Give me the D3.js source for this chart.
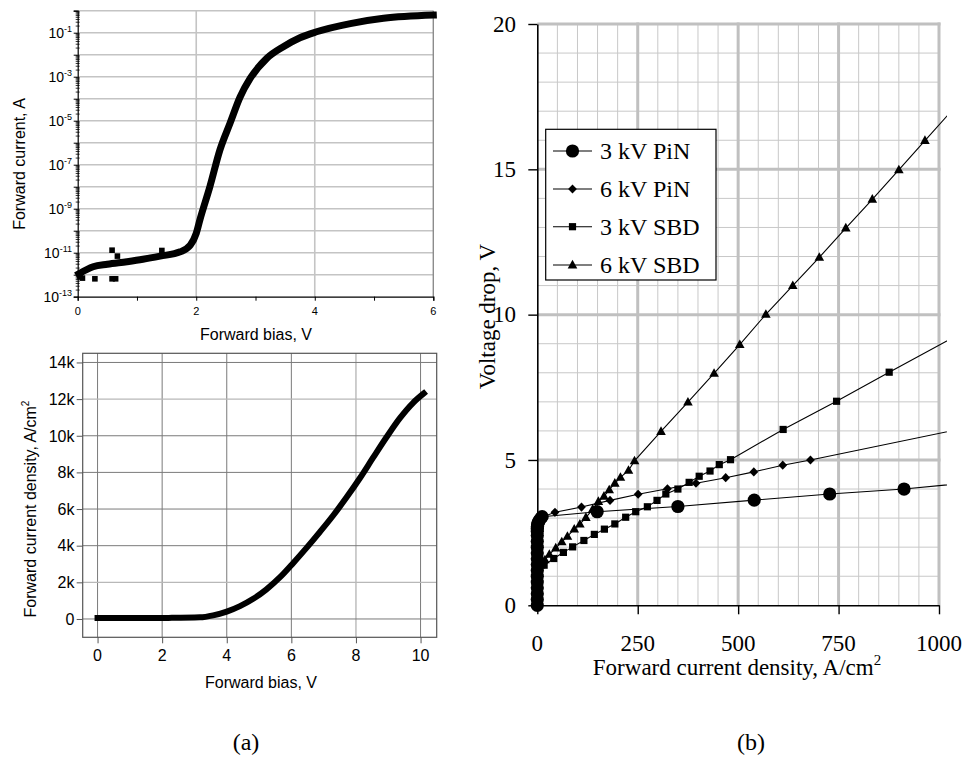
<!DOCTYPE html>
<html><head><meta charset="utf-8">
<script src="https://cdn.jsdelivr.net/npm/d3@7"></script>
<style>body{margin:0;background:#fff}svg{display:block}</style>
</head><body>
<svg id="c" width="965" height="758"></svg>
<script>
// ---------------- DATA ----------------
// (a) top: log I-V
const ivBias = [0.02,0.26,0.5,0.83,1.1,1.39,1.73,1.9,2.0,2.06,2.23,2.40,2.57,2.74,2.91,3.19,3.47,3.75,4.03,4.6,5.16,6.0];
const ivCurrent = [1.1e-12,2.3e-12,3e-12,3.9e-12,5e-12,7e-12,1.1e-11,2.2e-11,7.6e-11,3e-10,1e-8,4.7e-7,7.6e-6,1.2e-4,8.3e-4,6.8e-3,2.3e-2,5.9e-2,0.11,0.26,0.45,0.63];
const ivOutBias = [0.04,0.08,0.29,0.58,0.58,0.64,0.67,1.42];
const ivOutCurrent = [8e-13,7e-13,6.5e-13,1.3e-11,6.5e-13,6.5e-13,7e-12,1.26e-11];
const ivXTicks = [0,1,2,3,4,5,6];
const ivXLabels = [0,2,4,6];
const ivYLabelExp = [-1,-3,-5,-7,-9,-11,-13];

// (a) bottom: linear J-V
const jvBias = [0,1.1,2.2,3.17,3.58,4.0,4.41,4.82,5.23,5.65,6.06,6.47,6.88,7.3,7.71,8.12,8.53,8.95,9.36,9.77,10.1];
const jvDensity = [50,50,60,90,200,400,700,1100,1620,2280,3060,3880,4740,5660,6640,7680,8800,9930,10960,11800,12310];
const jvXTicks = [0,2,4,6,8,10];
const jvYTicks = [0,2000,4000,6000,8000,10000,12000,14000];
const jvYTickLabels = ["0","2k","4k","6k","8k","10k","12k","14k"];

// (b) voltage drop vs current density
const seriesNames = ["3 kV PiN","6 kV PiN","3 kV SBD","6 kV SBD"];
const pin3X = [0,0,0,0,0,0,0,0,0,0,0,0,0,0,0,0.5,1,2,4,8,12,149,350,540,728,913,1100];
const pin3Y = [0,0.2,0.4,0.6,0.8,1.0,1.2,1.4,1.6,1.8,2.0,2.2,2.4,2.55,2.65,2.72,2.78,2.84,2.9,2.98,3.05,3.22,3.40,3.62,3.83,4.0,4.25];
const pin6X = [0,0,0,0,2,6,44,110,181,251,324,395,469,539,611,680,1100];
const pin6Y = [0,1.0,2.0,2.6,2.85,3.0,3.20,3.38,3.61,3.82,4.01,4.20,4.39,4.59,4.82,5.0,6.2];
const sbd3X = [0,0,0,2,6,17,41,65,88,116,142,167,193,220,245,274,298,320,350,378,403,430,453,481,612,745,876,1050];
const sbd3Y = [0,0.5,1.0,1.2,1.3,1.38,1.61,1.82,2.01,2.23,2.44,2.62,2.80,3.03,3.22,3.39,3.61,3.83,4.0,4.23,4.44,4.62,4.84,5.01,6.05,7.02,8.02,9.32];
const sbd6X = [0,0,0,0,1,3,8,19,30,46,61,75,92,106,121,138,152,166,179,193,207,227,242,308,375,440,504,569,636,702,768,834,900,965,1050];
const sbd6Y = [0,0.4,0.8,1.1,1.2,1.28,1.38,1.56,1.75,1.97,2.18,2.37,2.62,2.79,3.02,3.31,3.57,3.75,3.97,4.20,4.40,4.64,4.97,5.98,6.99,7.98,8.97,10.01,11.0,11.97,12.98,13.97,14.98,15.99,17.3];
const bXTicks = [0,250,500,750,1000];
const bYTicks = [0,5,10,15,20];

// ---------------- DRAW ----------------
const svg = d3.select("#c");
const SANS = "'Liberation Sans', Arial, sans-serif";
const SERIF = "'Liberation Serif', 'Times New Roman', serif";

// ===== (a) top =====
{
  const g = svg.append("g");
  const x = d3.scaleLinear().domain([0,6]).range([77.7,433.3]);
  const y = d3.scaleLog().domain([1e-13,1]).range([296.7,10.7]);
  const decades = d3.range(-12,1).map(e => Math.pow(10,e));
  g.selectAll(".hg").data(decades).join("line")
    .attr("x1",x(0)).attr("x2",x(6)).attr("y1",d=>y(d)).attr("y2",d=>y(d))
    .attr("stroke","#c4c4c4").attr("stroke-width",1.6);
  g.selectAll(".vg").data([2,4]).join("line")
    .attr("x1",d=>x(d)).attr("x2",d=>x(d)).attr("y1",y(1e-13)).attr("y2",y(1))
    .attr("stroke","#c4c4c4").attr("stroke-width",1.6);
  g.append("line").attr("x1",x(6)).attr("x2",x(6)).attr("y1",y(1e-13)).attr("y2",y(1))
    .attr("stroke","#8c8c8c").attr("stroke-width",1.4);
  const minors = [];
  d3.range(-13,0).forEach(e => { for (let m=2;m<=9;m++) minors.push(m*Math.pow(10,e)); });
  g.selectAll(".mt").data(minors).join("line")
    .attr("x1",x(0)-2).attr("x2",x(0)+2).attr("y1",d=>y(d)).attr("y2",d=>y(d))
    .attr("stroke","#000").attr("stroke-width",0.8);
  const ya = g.append("g").attr("transform",`translate(${x(0)},0)`)
    .call(d3.axisLeft(y).tickValues(d3.range(-13,1).map(e=>Math.pow(10,e))).tickSize(4).tickFormat(""));
  ya.select(".domain").attr("stroke","#000").attr("stroke-width",1.2);
  const xa = g.append("g").attr("transform",`translate(0,${y(1e-13)})`)
    .call(d3.axisBottom(x).tickValues(ivXTicks).tickSize(4).tickFormat(""));
  xa.select(".domain").attr("stroke","#000").attr("stroke-width",1.2);
  g.selectAll(".xl").data(ivXLabels).join("text")
    .attr("x",d=>x(d)).attr("y",315).attr("text-anchor","middle")
    .attr("font-family",SANS).attr("font-size",11).text(d=>d);
  const yl = g.selectAll(".yl").data(ivYLabelExp).join("text")
    .attr("x",72).attr("y",d=>y(Math.pow(10,d))+5.4).attr("text-anchor","end")
    .attr("font-family",SANS).attr("font-size",14);
  yl.append("tspan").text("10");
  yl.append("tspan").attr("dy",-6).attr("font-size",9).text(d=>d);
  const line = d3.line().x((d,i)=>x(ivBias[i])).y(d=>y(d)).curve(d3.curveMonotoneX);
  g.append("path").attr("d",line(ivCurrent)).attr("fill","none").attr("stroke","#000")
    .attr("stroke-width",7).attr("stroke-linejoin","round").attr("stroke-linecap","square");
  g.selectAll(".out").data(ivOutCurrent).join("rect")
    .attr("x",(d,i)=>x(ivOutBias[i])-2.8).attr("y",d=>y(d)-2.8).attr("width",5.6).attr("height",5.6).attr("fill","#000");
  g.append("text").attr("x",256).attr("y",340).attr("text-anchor","middle")
    .attr("font-family",SANS).attr("font-size",16).text("Forward bias, V");
  g.append("text").attr("transform","translate(25,164) rotate(-90)").attr("text-anchor","middle")
    .attr("font-family",SANS).attr("font-size",16).text("Forward current, A");
}

// ===== (a) bottom =====
{
  const g = svg.append("g");
  const x = d3.scaleLinear().domain([-0.46,10.5]).range([82.7,436.7]);
  const y = d3.scaleLinear().domain([-1000,14500]).range([637.3,353.3]);
  const light = v => (v===8 || v===2000 || v===12000);
  g.selectAll(".vg").data(jvXTicks).join("line")
    .attr("x1",d=>x(d)).attr("x2",d=>x(d)).attr("y1",353.3).attr("y2",637.3)
    .attr("stroke",d=>light(d)?"#b8b8b8":"#7a7a7a").attr("stroke-width",d=>light(d)?1.4:1);
  g.selectAll(".hg").data(jvYTicks).join("line")
    .attr("x1",82.7).attr("x2",436.7).attr("y1",d=>y(d)).attr("y2",d=>y(d))
    .attr("stroke",d=>light(d)?"#b8b8b8":"#7a7a7a").attr("stroke-width",d=>light(d)?1.4:1);
  g.append("rect").attr("x",82.7).attr("y",353.3).attr("width",354).attr("height",284)
    .attr("fill","none").attr("stroke","#555").attr("stroke-width",1.2);
  const xa = g.append("g").attr("transform","translate(0,637.3)")
    .call(d3.axisBottom(x).tickValues(jvXTicks).tickSize(6).tickSizeOuter(0).tickFormat(""));
  xa.select(".domain").remove();
  xa.selectAll("line").attr("stroke","#555");
  const ya = g.append("g").attr("transform","translate(82.7,0)")
    .call(d3.axisLeft(y).tickValues(jvYTicks).tickSize(6).tickSizeOuter(0).tickFormat(""));
  ya.select(".domain").remove();
  ya.selectAll("line").attr("stroke","#555");
  g.selectAll(".xl").data(jvXTicks).join("text")
    .attr("x",d=>x(d)).attr("y",660.7).attr("text-anchor","middle")
    .attr("font-family",SANS).attr("font-size",16).text(d=>d);
  g.selectAll(".yl").data(jvYTicks).join("text")
    .attr("x",74.5).attr("y",d=>y(d)+5.8).attr("text-anchor","end")
    .attr("font-family",SANS).attr("font-size",16).text((d,i)=>jvYTickLabels[i]);
  const line = d3.line().x((d,i)=>x(jvBias[i])).y(d=>y(d)).curve(d3.curveMonotoneX);
  g.append("path").attr("d",line(jvDensity)).attr("fill","none").attr("stroke","#000")
    .attr("stroke-width",6).attr("stroke-linejoin","round").attr("stroke-linecap","square");
  g.append("text").attr("x",261).attr("y",688).attr("text-anchor","middle")
    .attr("font-family",SANS).attr("font-size",16).text("Forward bias, V");
  const t = g.append("text").attr("transform","translate(36,509) rotate(-90)").attr("text-anchor","middle")
    .attr("font-family",SANS).attr("font-size",16);
  t.append("tspan").text("Forward current density, A/cm");
  t.append("tspan").attr("dy",-7).attr("font-size",10).text("2");
  svg.append("text").attr("x",246).attr("y",750).attr("text-anchor","middle")
    .attr("font-family",SERIF).attr("font-size",24).text("(a)");
}

// ===== (b) =====
{
  const g = svg.append("g");
  const x = d3.scaleLinear().domain([0,1000]).range([537.3,939]);
  const y = d3.scaleLinear().domain([0,20]).range([605.3,24]);
  const minorX = d3.range(50,1000,50).filter(v=>v%250!==0);
  const minorY = d3.range(1,20,1).filter(v=>v%5!==0);
  g.selectAll(".mvx").data(minorX).join("line")
    .attr("x1",d=>x(d)).attr("x2",d=>x(d)).attr("y1",y(0)).attr("y2",y(20))
    .attr("stroke","#c8c8c8").attr("stroke-width",1);
  g.selectAll(".mhy").data(minorY).join("line")
    .attr("x1",x(0)).attr("x2",x(1000)).attr("y1",d=>y(d)).attr("y2",d=>y(d))
    .attr("stroke","#c8c8c8").attr("stroke-width",1);
  g.selectAll(".Mvx").data(bXTicks.slice(1)).join("line")
    .attr("x1",d=>x(d)).attr("x2",d=>x(d)).attr("y1",y(0)).attr("y2",y(20)-1.5)
    .attr("stroke","#c0c0c0").attr("stroke-width",3);
  g.selectAll(".Mhy").data(bYTicks.slice(1)).join("line")
    .attr("x1",x(0)).attr("x2",x(1000)+1.5).attr("y1",d=>y(d)).attr("y2",d=>y(d))
    .attr("stroke","#c0c0c0").attr("stroke-width",3);
  const xa = g.append("g").attr("transform",`translate(0,${y(0)})`)
    .call(d3.axisBottom(x).tickValues(bXTicks).tickSize(9).tickSizeOuter(0).tickFormat(""));
  xa.select(".domain").attr("stroke","#000").attr("stroke-width",1.6);
  xa.selectAll("line").attr("stroke","#000").attr("stroke-width",1.4);
  const ya = g.append("g").attr("transform",`translate(${x(0)},0)`)
    .call(d3.axisLeft(y).tickValues(bYTicks).tickSize(9).tickSizeOuter(0).tickFormat(""));
  ya.select(".domain").attr("stroke","#000").attr("stroke-width",1.6);
  ya.selectAll("line").attr("stroke","#000").attr("stroke-width",1.4);
  g.selectAll(".xl").data(bXTicks).join("text")
    .attr("x",d=>x(d)).attr("y",651).attr("text-anchor","middle")
    .attr("font-family",SERIF).attr("font-size",23).text(d=>d);
  g.selectAll(".yl").data(bYTicks).join("text")
    .attr("x",516).attr("y",d=>y(d)+7.6).attr("text-anchor","end")
    .attr("font-family",SERIF).attr("font-size",23).text(d=>d);
  const tx = g.append("text").attr("x",737).attr("y",675).attr("text-anchor","middle")
    .attr("font-family",SERIF).attr("font-size",23);
  tx.append("tspan").text("Forward current density, A/cm");
  tx.append("tspan").attr("dy",-10).attr("font-size",15).text("2");
  g.append("text").attr("transform","translate(495,316.5) rotate(-90)").attr("text-anchor","middle")
    .attr("font-family",SERIF).attr("font-size",23).text("Voltage drop, V");

  const markers = {
    circle: "M6.6,0A6.6,6.6,0,1,1,-6.6,0A6.6,6.6,0,1,1,6.6,0Z",
    diamond: "M0,-4.6L4.4,0L0,4.6L-4.4,0Z",
    square: "M-3.6,-3.6h7.2v7.2h-7.2Z",
    triangle: "M0,-5.2L4.8,3.4L-4.8,3.4Z"
  };
  const series = [
    {name:seriesNames[0], xs:pin3X, ys:pin3Y, m:markers.circle},
    {name:seriesNames[1], xs:pin6X, ys:pin6Y, m:markers.diamond},
    {name:seriesNames[2], xs:sbd3X, ys:sbd3Y, m:markers.square},
    {name:seriesNames[3], xs:sbd6X, ys:sbd6Y, m:markers.triangle}
  ];
  svg.append("clipPath").attr("id","clipB").append("rect")
    .attr("x",525).attr("y",0).attr("width",947-525).attr("height",620);
  const dg = g.append("g").attr("clip-path","url(#clipB)");
  series.forEach(s => {
    const pts = s.xs.map((v,i)=>[v,s.ys[i]]);
    const line = d3.line().x(d=>x(d[0])).y(d=>y(d[1]));
    dg.append("path").attr("d",line(pts)).attr("fill","none").attr("stroke","#000").attr("stroke-width",1.1);
    dg.selectAll(null).data(pts.filter(p=>p[0]<=1000)).join("path")
      .attr("d",s.m).attr("transform",d=>`translate(${x(d[0])},${y(d[1])})`).attr("fill","#000");
  });
  const lg = g.append("g");
  lg.append("rect").attr("x",545.7).attr("y",129.3).attr("width",170.3).attr("height",150.7)
    .attr("fill","#fff").attr("stroke","#000").attr("stroke-width",1.2);
  const ly = [151,189,226.7,265];
  series.forEach((s,i) => {
    lg.append("line").attr("x1",553).attr("x2",592).attr("y1",ly[i]).attr("y2",ly[i]).attr("stroke","#000").attr("stroke-width",1.1);
    lg.append("path").attr("d",s.m).attr("transform",`translate(572.5,${ly[i]})`).attr("fill","#000");
    lg.append("text").attr("x",600).attr("y",ly[i]+8).attr("font-family",SERIF).attr("font-size",24).text(s.name);
  });
  svg.append("text").attr("x",751).attr("y",750).attr("text-anchor","middle")
    .attr("font-family",SERIF).attr("font-size",24).text("(b)");
}
</script>
</body></html>
